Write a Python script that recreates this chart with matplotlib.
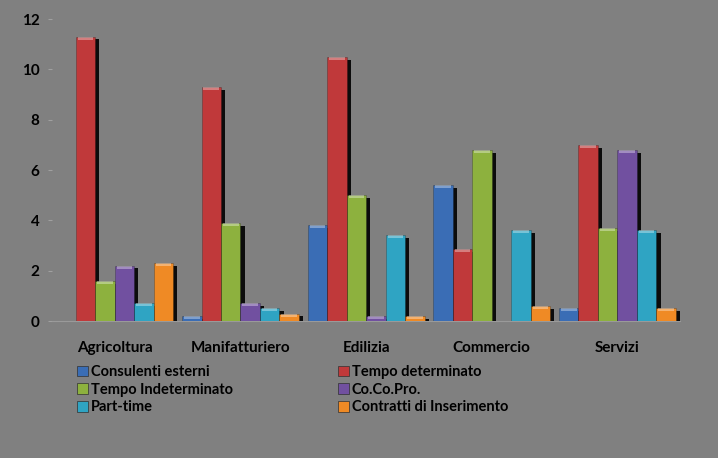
import matplotlib.pyplot as plt
import matplotlib.patheffects as pe
from matplotlib.patches import Patch
import numpy as np

categories = ['Agricoltura', 'Manifatturiero', 'Edilizia', 'Commercio', 'Servizi']
series_names = ['Consulenti esterni', 'Tempo determinato', 'Tempo Indeterminato',
                'Co.Co.Pro.', 'Part-time', 'Contratti di Inserimento']
consulenti = [0.0, 0.2, 3.8, 5.4, 0.5]
tempo_det = [11.3, 9.3, 10.5, 2.85, 7.0]
tempo_indet = [1.6, 3.9, 5.0, 6.8, 3.7]
cocopro = [2.2, 0.7, 0.2, 0.0, 6.8]
part_time = [0.7, 0.5, 3.4, 3.6, 3.6]
contratti = [2.3, 0.3, 0.2, 0.6, 0.5]
yticks = [0, 2, 4, 6, 8, 10, 12]

series = [consulenti, tempo_det, tempo_indet, cocopro, part_time, contratti]
colors = ['#3A6DB5', '#C0393A', '#8DB13E', '#7150A0', '#2FA4C3', '#EF8A25']

plt.rcParams['font.family'] = ['Lato', 'DejaVu Sans']
bg = '#808080'

fig = plt.figure(figsize=(7.18, 4.58), dpi=100, facecolor=bg)
ax = fig.add_axes([0.0724, 0.299, 0.875, 0.6595], facecolor=bg)

x = np.arange(len(categories))
w = 0.155
shadow = [pe.SimplePatchShadow(offset=(3, -2), shadow_rgbFace='black', alpha=0.9), pe.Normal()]
for i, (vals, c) in enumerate(zip(series, colors)):
    pos = x + (i - 2.5) * w
    bars = ax.bar(pos, vals, width=w, color=c, edgecolor='#00000040', linewidth=0.6, zorder=3)
    for b, v in zip(bars, vals):
        if v > 0:
            b.set_path_effects(shadow)
    # lighter cap on the top of each bar
    ax.bar(pos, [min(0.12, v) for v in vals], bottom=[v - min(0.12, v) for v in vals],
           width=w * 0.8, color='white', alpha=0.35, linewidth=0, zorder=4)

ax.set_xlim(-0.5, len(categories) - 0.5)
ax.set_ylim(0, 12)
ax.set_yticks(yticks)
ax.set_yticklabels([str(t) for t in yticks], fontsize=11, fontweight='bold')
ax.set_xticks(x)
ax.set_xticklabels(categories, fontsize=11, fontweight='bold')
ax.tick_params(axis='x', length=0, pad=14)
ax.tick_params(axis='y', length=3, color='#a0a0a0', pad=6)
for s in ['top', 'right', 'left']:
    ax.spines[s].set_visible(False)
ax.spines['bottom'].set_color('#9a9a9a')

order = [0, 2, 4, 1, 3, 5]
proxies = [Patch(facecolor=colors[k], edgecolor='#303030', linewidth=0.5) for k in order]
leg = fig.legend(proxies, [series_names[k] for k in order],
                 ncol=2, loc='upper left', bbox_to_anchor=(0.107, 0.203),
                 frameon=False, fontsize=10.5, handlelength=0.75, handleheight=0.75,
                 handletextpad=0.2, columnspacing=7.2, labelspacing=0.25,
                 borderpad=0, borderaxespad=0)
for t in leg.get_texts():
    t.set_fontweight('bold')

fig.savefig('out.png', dpi=100, facecolor=bg)
